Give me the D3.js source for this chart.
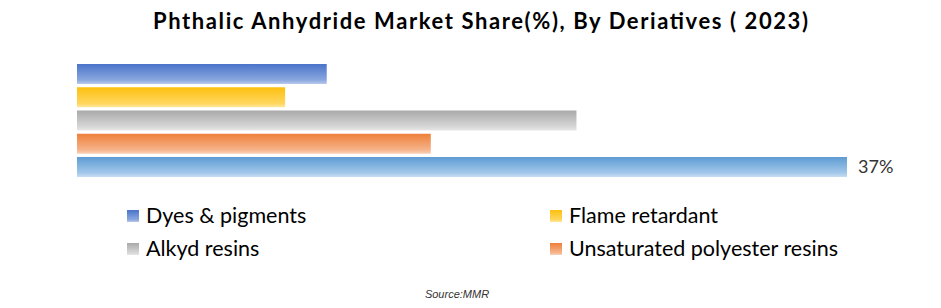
<!DOCTYPE html>
<html>
<head>
<meta charset="utf-8">
<script src="https://cdn.jsdelivr.net/npm/d3@7"></script>
<style>
  body { margin: 0; background: #fff; }
  svg { display: block; }
</style>
</head>
<body>
<div id="chart"></div>
<script>
// data
const categories = ['Dyes & pigments', 'Flame retardant', 'Alkyd resins', 'Unsaturated polyester resins', 'Plasticizers'];
const shares = [12, 10, 24, 17, 37];
const showLabel = [false, false, false, false, true];
const inLegend = ['Dyes & pigments', 'Flame retardant', 'Alkyd resins', 'Unsaturated polyester resins'];

// top (darker) and bottom (lighter) of each bar gradient
const topColors = ['#4a74c9', '#fdc010', '#a9a9a9', '#ee7f3a', '#5d9bd3'];
const botColors = ['#8aa7df', '#ffd65c', '#d6d6d6', '#f6b38a', '#a3c8ea'];

const width = 941, height = 308;
const left = 77;

const svg = d3.select('#chart')
  .append('svg')
  .attr('width', width)
  .attr('height', height);

const defs = svg.append('defs');
categories.forEach((c, i) => {
  const g = defs.append('linearGradient')
    .attr('id', 'grad' + i)
    .attr('x1', 0).attr('y1', 0).attr('x2', 0).attr('y2', 1);
  g.append('stop').attr('offset', '0%').attr('stop-color', topColors[i]);
  g.append('stop').attr('offset', '80%').attr('stop-color', botColors[i]);
  g.append('stop').attr('offset', '100%').attr('stop-color', botColors[i]).attr('stop-opacity', 0.6);
});

// title
svg.append('text')
  .attr('x', 153)
  .attr('y', 29)
  .attr('textLength', 655)
  .attr('lengthAdjust', 'spacing')
  .style('font-family', 'Lato, "Open Sans", sans-serif')
  .style('font-weight', 'bold')
  .style('font-size', '22px')
  .style('fill', '#000')
  .text('Phthalic Anhydride Market Share(%), By Deriatives ( 2023)');

const x = d3.scaleLinear()
  .domain([0, 37])
  .range([left, 847]);

const y = d3.scaleBand()
  .domain(categories)
  .range([64, 177])
  .paddingInner(0.14)
  .paddingOuter(0);

svg.selectAll('.bar')
  .data(categories)
  .join('rect')
    .attr('class', 'bar')
    .attr('x', x(0))
    .attr('y', d => y(d))
    .attr('width', (d, i) => x(shares[i]) - x(0))
    .attr('height', y.bandwidth())
    .attr('fill', (d, i) => `url(#grad${i})`);

svg.selectAll('.val')
  .data(categories.filter((d, i) => showLabel[i]))
  .join('text')
    .attr('class', 'val')
    .attr('x', d => x(shares[categories.indexOf(d)]) + 11)
    .attr('y', d => y(d) + y.bandwidth() / 2 + 6)
    .style('font-family', 'Lato, "Open Sans", sans-serif')
    .style('font-size', '18px')
    .style('fill', '#333')
    .text(d => shares[categories.indexOf(d)] + '%');

// legend
const legPos = [[127, 216], [550, 216], [127, 249], [550, 249]];
const leg = svg.selectAll('.leg')
  .data(inLegend)
  .join('g')
    .attr('class', 'leg')
    .attr('transform', (d, i) => `translate(${legPos[i][0]},${legPos[i][1]})`);

leg.append('rect')
  .attr('x', 0)
  .attr('y', -6)
  .attr('width', 12)
  .attr('height', 12)
  .attr('fill', d => `url(#grad${categories.indexOf(d)})`);

leg.append('text')
  .attr('x', 19)
  .attr('y', 7)
  .style('font-family', 'Lato, "Open Sans", sans-serif')
  .style('font-size', '21.5px')
  .style('fill', '#000')
  .text(d => d);

svg.append('text')
  .attr('x', 457)
  .attr('y', 298)
  .attr('text-anchor', 'middle')
  .style('font-family', '"Liberation Sans", Arial, sans-serif')
  .style('font-style', 'italic')
  .style('font-size', '11px')
  .style('fill', '#333')
  .text('Source:MMR');
</script>
</body>
</html>
